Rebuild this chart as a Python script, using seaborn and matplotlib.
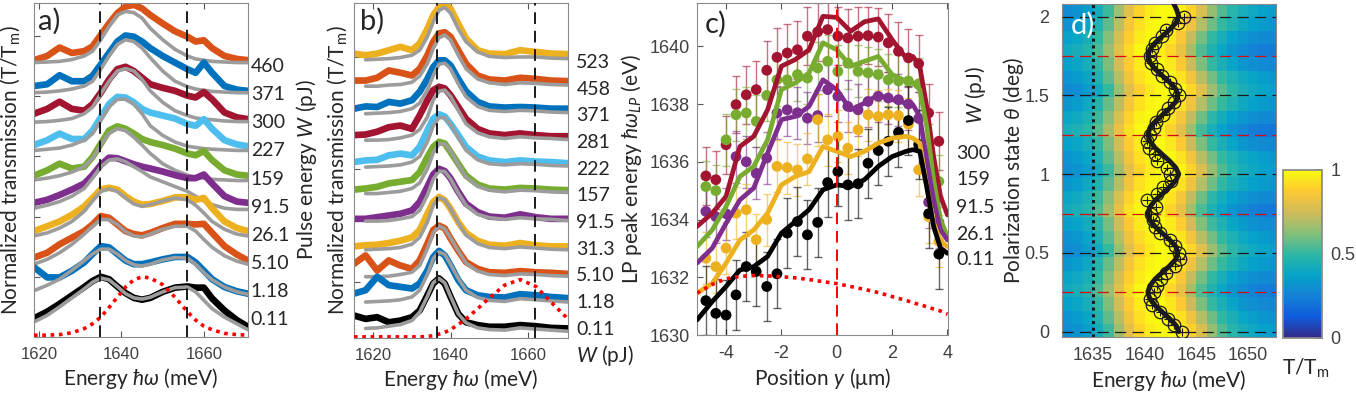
import numpy as np
import matplotlib
matplotlib.use("Agg")
import matplotlib.pyplot as plt
import seaborn as sns
from matplotlib.colors import LinearSegmentedColormap

sns.set_theme(style="ticks")
plt.rcParams['font.family'] = ['Lato', 'DejaVu Sans']
plt.rcParams['mathtext.fontset'] = 'custom'
plt.rcParams['mathtext.rm'] = 'Lato'
plt.rcParams['mathtext.it'] = 'Lato:italic'
plt.rcParams['mathtext.bf'] = 'Lato:bold'
plt.rcParams['mathtext.fallback'] = 'stix'
plt.rcParams['axes.unicode_minus'] = False

# ---------------- colours ----------------
BLUE, ORANGE, YELLOW, PURPLE = '#0072BD', '#D95319', '#EDB120', '#7E2F8E'
GREEN, LBLUE, DRED, BLACK = '#77AC30', '#4DBEEE', '#A2142F', '#000000'
GREY = '#9c9c9c'

# ---------------- panel a data ----------------
Ea = [1618.8, 1622, 1625, 1628, 1631, 1633, 1635, 1637, 1639, 1641, 1643, 1645,
      1647, 1650, 1653, 1656, 1658, 1660, 1662, 1665, 1668, 1670.7]
a_W = ["460", "371", "300", "227", "159", "91.5", "26.1", "5.10", "1.18", "0.11"]
a_colors = [ORANGE, BLUE, DRED, LBLUE, GREEN, PURPLE, YELLOW, ORANGE, BLUE, BLACK]
a_T460 = [4.60, 4.67, 4.81, 4.72, 4.75, 4.83, 5.02, 5.21, 5.38, 5.49, 5.52, 5.46, 5.35, 5.21, 5.08, 4.99, 4.91, 4.93, 4.80, 4.67, 4.62, 4.60]
a_F460 = [4.56, 4.57, 4.58, 4.61, 4.67, 4.75, 4.94, 5.16, 5.35, 5.41, 5.39, 5.30, 5.13, 4.94, 4.78, 4.67, 4.62, 4.60, 4.58, 4.57, 4.56, 4.56]
a_T371 = [4.17, 4.20, 4.35, 4.25, 4.25, 4.34, 4.53, 4.72, 4.91, 5.01, 4.99, 4.91, 4.80, 4.67, 4.56, 4.45, 4.39, 4.56, 4.39, 4.17, 4.11, 4.09]
a_F371 = [4.06, 4.07, 4.09, 4.12, 4.17, 4.25, 4.45, 4.67, 4.86, 4.94, 4.91, 4.80, 4.64, 4.42, 4.25, 4.16, 4.12, 4.10, 4.08, 4.07, 4.06, 4.06]
a_T300 = [3.71, 3.79, 3.91, 3.79, 3.76, 3.87, 4.06, 4.28, 4.45, 4.49, 4.42, 4.31, 4.20, 4.14, 4.09, 4.01, 3.98, 4.07, 3.95, 3.73, 3.65, 3.62]
a_F300 = [3.57, 3.58, 3.60, 3.63, 3.71, 3.82, 4.04, 4.25, 4.42, 4.46, 4.42, 4.28, 4.09, 3.90, 3.76, 3.68, 3.64, 3.62, 3.61, 3.59, 3.58, 3.58]
a_T227 = [3.19, 3.27, 3.38, 3.29, 3.29, 3.43, 3.65, 3.87, 3.99, 3.98, 3.90, 3.79, 3.73, 3.68, 3.63, 3.54, 3.51, 3.62, 3.46, 3.27, 3.20, 3.17]
a_F227 = [3.10, 3.12, 3.14, 3.19, 3.27, 3.38, 3.60, 3.82, 3.95, 3.95, 3.87, 3.71, 3.51, 3.35, 3.24, 3.17, 3.15, 3.13, 3.12, 3.11, 3.10, 3.10]
a_T159 = [2.68, 2.77, 2.88, 2.80, 2.83, 2.99, 3.21, 3.43, 3.50, 3.46, 3.38, 3.29, 3.24, 3.19, 3.13, 3.05, 3.02, 3.09, 2.94, 2.77, 2.70, 2.68]
a_F159 = [2.61, 2.64, 2.68, 2.74, 2.83, 2.97, 3.19, 3.38, 3.46, 3.43, 3.32, 3.19, 3.05, 2.88, 2.77, 2.69, 2.65, 2.64, 2.62, 2.61, 2.60, 2.60]
a_T915 = [2.23, 2.28, 2.36, 2.45, 2.55, 2.69, 2.86, 2.98, 2.97, 2.92, 2.87, 2.83, 2.80, 2.75, 2.69, 2.64, 2.64, 2.70, 2.55, 2.34, 2.25, 2.23]
a_F915 = [2.14, 2.19, 2.25, 2.34, 2.47, 2.64, 2.83, 2.94, 2.96, 2.91, 2.83, 2.75, 2.66, 2.58, 2.50, 2.42, 2.34, 2.26, 2.20, 2.14, 2.12, 2.12]
a_T261 = [1.76, 1.84, 1.92, 2.03, 2.17, 2.31, 2.45, 2.48, 2.45, 2.34, 2.25, 2.20, 2.21, 2.26, 2.32, 2.32, 2.28, 2.31, 2.14, 1.92, 1.81, 1.76]
a_F261 = [1.68, 1.73, 1.81, 1.92, 2.09, 2.26, 2.42, 2.46, 2.42, 2.31, 2.21, 2.17, 2.20, 2.26, 2.31, 2.28, 2.19, 2.06, 1.92, 1.79, 1.71, 1.68]
a_T510 = [1.32, 1.40, 1.54, 1.65, 1.76, 1.87, 2.01, 1.98, 1.87, 1.76, 1.71, 1.69, 1.73, 1.81, 1.88, 1.88, 1.87, 1.88, 1.73, 1.51, 1.37, 1.27]
a_F510 = [1.21, 1.29, 1.40, 1.54, 1.71, 1.84, 1.95, 1.95, 1.87, 1.75, 1.68, 1.66, 1.71, 1.79, 1.84, 1.84, 1.76, 1.62, 1.49, 1.35, 1.26, 1.21]
a_T118 = [1.16, 0.99, 0.99, 1.10, 1.24, 1.38, 1.51, 1.49, 1.38, 1.27, 1.21, 1.21, 1.24, 1.29, 1.33, 1.33, 1.24, 1.10, 0.96, 0.83, 0.76, 0.72]
a_F118 = [0.77, 0.86, 0.96, 1.11, 1.27, 1.38, 1.46, 1.46, 1.38, 1.27, 1.20, 1.18, 1.21, 1.28, 1.32, 1.31, 1.21, 1.07, 0.95, 0.83, 0.75, 0.71]
a_T011 = [0.31, 0.42, 0.55, 0.69, 0.83, 0.93, 1.00, 0.96, 0.84, 0.73, 0.65, 0.62, 0.65, 0.75, 0.82, 0.84, 0.82, 0.82, 0.64, 0.44, 0.28, 0.17]
a_F011 = [0.25, 0.36, 0.50, 0.65, 0.80, 0.91, 0.98, 0.95, 0.84, 0.72, 0.65, 0.63, 0.66, 0.75, 0.82, 0.83, 0.75, 0.61, 0.47, 0.33, 0.22, 0.12]
a_pulse = [0.03, 0.03, 0.04, 0.07, 0.14, 0.22, 0.33, 0.49, 0.66, 0.83, 0.95, 1.00, 0.98, 0.87, 0.66, 0.42, 0.28, 0.18, 0.12, 0.06, 0.04, 0.03]
a_dashed = [1634.8, 1655.9]

# ---------------- panel b data ----------------
Eb = [1615, 1618, 1621, 1624, 1627, 1630, 1632, 1634, 1635.5, 1637, 1638.5, 1640,
      1642, 1644, 1647, 1650, 1654, 1658, 1662, 1666, 1670.4]
b_W = ["523", "458", "371", "281", "222", "157", "91.5", "31.3", "5.10", "1.18", "0.11"]
b_colors = [YELLOW, ORANGE, BLUE, DRED, LBLUE, GREEN, PURPLE, YELLOW, ORANGE, BLUE, BLACK]
b_T523 = [5.06, 5.03, 5.06, 5.12, 5.18, 5.12, 5.24, 5.50, 5.74, 5.89, 5.94, 5.86, 5.59, 5.33, 5.12, 5.06, 5.05, 5.12, 5.09, 5.06, 5.05]
b_F523 = [4.95, 4.96, 4.97, 4.99, 5.03, 5.12, 5.36, 5.62, 5.83, 5.88, 5.78, 5.50, 5.27, 5.09, 5.01, 4.99, 5.00, 5.00, 4.98, 4.97]
b_T458 = [4.58, 4.58, 4.63, 4.76, 4.72, 4.67, 4.79, 5.03, 5.27, 5.42, 5.44, 5.36, 5.12, 4.88, 4.67, 4.60, 4.58, 4.63, 4.61, 4.58, 4.57]
b_F458 = [4.48, 4.48, 4.50, 4.51, 4.55, 4.66, 4.88, 5.15, 5.34, 5.39, 5.30, 5.03, 4.79, 4.61, 4.54, 4.51, 4.54, 4.53, 4.51, 4.50]
b_T371 = [4.08, 4.12, 4.11, 4.20, 4.17, 4.23, 4.38, 4.61, 4.82, 4.94, 4.94, 4.85, 4.61, 4.39, 4.20, 4.12, 4.10, 4.11, 4.10, 4.08, 4.08]
b_F371 = [3.99, 4.00, 4.01, 4.03, 4.08, 4.18, 4.41, 4.67, 4.87, 4.89, 4.79, 4.52, 4.29, 4.12, 4.05, 4.03, 4.05, 4.04, 4.02, 4.01]
b_T281 = [3.61, 3.62, 3.67, 3.75, 3.78, 3.72, 3.96, 4.23, 4.41, 4.47, 4.44, 4.32, 4.11, 3.90, 3.72, 3.64, 3.61, 3.64, 3.61, 3.59, 3.59]
b_F281 = [3.52, 3.52, 3.53, 3.56, 3.61, 3.71, 3.93, 4.23, 4.39, 4.41, 4.30, 4.05, 3.81, 3.65, 3.58, 3.55, 3.58, 3.56, 3.55, 3.53]
b_T222 = [3.13, 3.16, 3.17, 3.25, 3.28, 3.25, 3.40, 3.69, 3.90, 3.98, 3.94, 3.81, 3.61, 3.40, 3.23, 3.16, 3.13, 3.16, 3.14, 3.13, 3.11]
b_F222 = [3.04, 3.05, 3.06, 3.08, 3.13, 3.23, 3.49, 3.77, 3.92, 3.92, 3.80, 3.56, 3.34, 3.17, 3.10, 3.08, 3.10, 3.09, 3.07, 3.06]
b_T157 = [2.64, 2.66, 2.69, 2.75, 2.78, 2.81, 2.95, 3.22, 3.40, 3.49, 3.46, 3.31, 3.10, 2.89, 2.73, 2.66, 2.64, 2.67, 2.66, 2.64, 2.63]
b_F157 = [2.57, 2.57, 2.59, 2.61, 2.66, 2.76, 3.01, 3.29, 3.45, 3.45, 3.33, 3.09, 2.86, 2.70, 2.63, 2.60, 2.63, 2.62, 2.60, 2.59]
b_T915 = [2.12, 2.12, 2.15, 2.18, 2.21, 2.27, 2.42, 2.69, 2.91, 3.01, 2.97, 2.84, 2.60, 2.39, 2.24, 2.16, 2.14, 2.20, 2.15, 2.12, 2.12]
b_F915 = [2.08, 2.08, 2.09, 2.12, 2.16, 2.27, 2.54, 2.82, 2.97, 2.96, 2.83, 2.58, 2.36, 2.20, 2.14, 2.11, 2.14, 2.12, 2.11, 2.09]
b_T313 = [1.63, 1.65, 1.66, 1.69, 1.73, 1.79, 1.92, 2.21, 2.42, 2.51, 2.45, 2.30, 2.06, 1.87, 1.73, 1.66, 1.64, 1.69, 1.65, 1.63, 1.63]
b_F313 = [1.57, 1.58, 1.59, 1.61, 1.67, 1.79, 2.06, 2.36, 2.50, 2.46, 2.30, 2.05, 1.83, 1.68, 1.61, 1.59, 1.62, 1.60, 1.58, 1.57]
b_T510 = [1.32, 1.47, 1.20, 1.38, 1.29, 1.23, 1.38, 1.68, 1.92, 2.00, 1.95, 1.77, 1.55, 1.35, 1.23, 1.17, 1.16, 1.19, 1.17, 1.16, 1.14]
b_F510 = [1.09, 1.09, 1.10, 1.13, 1.17, 1.29, 1.59, 1.87, 1.99, 1.94, 1.78, 1.55, 1.33, 1.19, 1.13, 1.11, 1.14, 1.13, 1.11, 1.10]
b_T118 = [0.79, 0.85, 1.09, 0.94, 0.91, 0.88, 0.97, 1.20, 1.44, 1.55, 1.47, 1.29, 1.03, 0.85, 0.76, 0.73, 0.72, 0.78, 0.76, 0.73, 0.71]
b_F118 = [0.64, 0.65, 0.66, 0.68, 0.73, 0.85, 1.13, 1.41, 1.53, 1.49, 1.31, 1.06, 0.85, 0.72, 0.67, 0.65, 0.70, 0.68, 0.66, 0.64]
b_T011 = [0.40, 0.34, 0.37, 0.28, 0.31, 0.37, 0.49, 0.76, 0.97, 1.06, 0.97, 0.73, 0.43, 0.28, 0.23, 0.20, 0.20, 0.23, 0.21, 0.18, 0.17]
b_F011 = [0.17, 0.18, 0.21, 0.24, 0.31, 0.46, 0.74, 0.98, 1.06, 0.98, 0.74, 0.43, 0.27, 0.18, 0.15, 0.14, 0.18, 0.16, 0.14, 0.12]
b_pulse = [0.02, 0.02, 0.02, 0.02, 0.02, 0.02, 0.02, 0.03, 0.04, 0.07, 0.10, 0.15, 0.24, 0.34, 0.52, 0.71, 0.94, 1.04, 0.92, 0.64, 0.34]
b_dashed = [1636.6, 1661.8]

# ---------------- panel c data ----------------
pos = [-4.73, -4.37, -4.00, -3.64, -3.27, -2.91, -2.53, -2.16, -1.79, -1.42, -1.06, -0.69,
       -0.33, 0.04, 0.40, 0.77, 1.13, 1.50, 1.86, 2.23, 2.59, 2.96, 3.32, 3.69]
c_W = ["300", "159", "91.5", "26.1", "0.11"]
c_colors = [DRED, GREEN, PURPLE, YELLOW, BLACK]
c_300 = [1635.51, 1635.38, 1636.59, 1637.98, 1638.32, 1638.50, 1639.17, 1639.62, 1639.77, 1639.88, 1640.35, 1640.50,
         1640.58, 1640.35, 1640.29, 1640.35, 1640.37, 1640.32, 1640.12, 1639.83, 1639.60, 1639.40, 1637.69, 1636.71]
c_159 = [1635.14, 1635.00, 1636.76, 1637.63, 1637.69, 1637.40, 1638.30, 1638.84, 1638.84, 1639.02, 1638.90, 1639.25,
         1639.48, 1639.13, 1639.42, 1639.13, 1639.08, 1639.02, 1638.84, 1638.80, 1638.80, 1638.70, 1636.40, 1635.32]
c_915 = [1634.28, 1634.10, 1634.20, 1636.18, 1636.00, 1635.60, 1636.13, 1637.69, 1637.80, 1637.70, 1637.51, 1637.60,
         1638.50, 1638.27, 1637.92, 1637.80, 1638.09, 1638.27, 1638.21, 1638.15, 1638.00, 1637.50, 1634.60, 1633.90]
c_261 = [1632.66, 1632.37, 1633.01, 1634.22, 1634.34, 1633.30, 1634.00, 1635.84, 1635.80, 1635.72, 1636.10, 1637.46,
         1636.76, 1636.88, 1636.47, 1637.11, 1637.63, 1637.57, 1637.63, 1637.60, 1637.30, 1635.72, 1634.10, 1633.24]
c_011 = [1631.19, 1630.75, 1630.69, 1631.39, 1632.37, 1632.20, 1631.68, 1632.12, 1633.53, 1633.93, 1633.47, 1633.90,
         1635.28, 1635.66, 1635.20, 1635.24, 1635.95, 1636.39, 1636.71, 1637.02, 1637.43, 1636.60, 1634.20, 1632.80]
c_err = [1.0, 0.9, 0.9, 0.9, 1.2]
lx = [-5.05, -4.5, -4.0, -3.5, -3.0, -2.5, -2.0, -1.5, -1.0, -0.5, 0.0, 0.5, 1.0, 1.5, 2.0, 2.5, 2.75, 3.0, 3.25, 3.5, 3.75, 4.0]
l_300 = [1633.76, 1634.22, 1634.80, 1636.53, 1636.88, 1637.80, 1639.31, 1639.54, 1639.88, 1641.04, 1641.00, 1640.52,
         1640.85, 1640.95, 1640.23, 1639.60, 1639.65, 1639.31, 1637.92, 1636.18, 1634.80, 1634.16]
l_159 = [1633.06, 1633.64, 1634.45, 1635.49, 1635.84, 1636.76, 1638.50, 1638.73, 1639.08, 1640.12, 1639.88, 1639.31,
         1639.48, 1639.65, 1639.02, 1638.79, 1638.73, 1638.50, 1637.23, 1635.38, 1633.99, 1633.41]
l_915 = [1632.49, 1633.01, 1633.87, 1634.68, 1635.09, 1636.30, 1637.46, 1637.57, 1637.92, 1638.84, 1638.50, 1637.80,
         1638.03, 1638.32, 1638.15, 1638.03, 1637.98, 1637.57, 1636.07, 1634.68, 1633.64, 1633.29]
l_261 = [1631.45, 1631.79, 1632.49, 1633.29, 1633.64, 1634.22, 1635.20, 1635.49, 1635.66, 1636.53, 1636.36, 1636.18,
         1636.36, 1636.65, 1636.82, 1636.88, 1636.82, 1636.65, 1635.14, 1633.87, 1633.24, 1633.06]
l_011 = [1630.52, 1631.16, 1631.68, 1632.25, 1632.37, 1632.72, 1633.53, 1633.93, 1634.34, 1635.03, 1635.20, 1635.14,
         1635.38, 1635.84, 1636.18, 1636.36, 1636.42, 1636.36, 1635.14, 1633.76, 1633.01, 1632.83]
l_pulse = [1631.45, 1631.75, 1631.95, 1632.03, 1632.06, 1632.05, 1632.02, 1631.98, 1631.92, 1631.85, 1631.78, 1631.68,
           1631.58, 1631.47, 1631.33, 1631.20, 1631.12, 1631.05, 1630.98, 1630.90, 1630.83, 1630.72]

# ---------------- panel d data ----------------
d_E = [1632.5 + i for i in range(21)]          # column centres (meV)
d_theta = [k / 12 for k in range(25)]          # row centres (deg)
d_map = [
    [0.29, 0.31, 0.36, 0.42, 0.52, 0.67, 0.80, 0.90, 0.96, 0.99, 1.00, 0.98, 0.90, 0.78, 0.65, 0.55, 0.48, 0.43, 0.40, 0.37, 0.35],
    [0.32, 0.34, 0.39, 0.46, 0.57, 0.71, 0.84, 0.93, 0.98, 1.00, 0.98, 0.93, 0.83, 0.70, 0.59, 0.50, 0.44, 0.39, 0.36, 0.33, 0.31],
    [0.37, 0.39, 0.43, 0.50, 0.61, 0.76, 0.88, 0.96, 1.00, 0.99, 0.95, 0.87, 0.74, 0.61, 0.51, 0.44, 0.38, 0.33, 0.30, 0.28, 0.27],
    [0.41, 0.43, 0.47, 0.54, 0.66, 0.80, 0.92, 0.99, 1.00, 0.97, 0.91, 0.82, 0.68, 0.55, 0.46, 0.39, 0.33, 0.29, 0.26, 0.24, 0.23],
    [0.38, 0.40, 0.44, 0.51, 0.62, 0.77, 0.89, 0.96, 1.00, 0.99, 0.95, 0.86, 0.73, 0.60, 0.50, 0.43, 0.37, 0.33, 0.30, 0.28, 0.27],
    [0.33, 0.35, 0.40, 0.47, 0.58, 0.72, 0.85, 0.93, 0.98, 1.00, 0.98, 0.93, 0.83, 0.70, 0.59, 0.51, 0.45, 0.40, 0.37, 0.34, 0.32],
    [0.28, 0.30, 0.35, 0.41, 0.51, 0.66, 0.79, 0.89, 0.95, 0.99, 1.00, 0.99, 0.91, 0.79, 0.66, 0.56, 0.49, 0.44, 0.41, 0.38, 0.36],
    [0.31, 0.33, 0.38, 0.45, 0.56, 0.70, 0.83, 0.92, 0.97, 1.00, 0.99, 0.94, 0.84, 0.71, 0.60, 0.51, 0.45, 0.40, 0.37, 0.34, 0.32],
    [0.36, 0.38, 0.42, 0.49, 0.60, 0.75, 0.87, 0.95, 1.00, 0.99, 0.96, 0.88, 0.75, 0.62, 0.52, 0.45, 0.39, 0.34, 0.31, 0.29, 0.28],
    [0.42, 0.44, 0.48, 0.55, 0.67, 0.81, 0.93, 0.99, 1.00, 0.97, 0.90, 0.81, 0.67, 0.54, 0.45, 0.38, 0.32, 0.28, 0.25, 0.23, 0.22],
    [0.39, 0.41, 0.45, 0.52, 0.63, 0.78, 0.90, 0.97, 1.00, 0.98, 0.94, 0.85, 0.72, 0.59, 0.49, 0.42, 0.37, 0.33, 0.30, 0.28, 0.27],
    [0.33, 0.35, 0.40, 0.46, 0.57, 0.71, 0.84, 0.93, 0.98, 1.00, 0.98, 0.93, 0.83, 0.70, 0.59, 0.50, 0.44, 0.40, 0.37, 0.34, 0.32],
    [0.29, 0.31, 0.36, 0.42, 0.52, 0.67, 0.80, 0.90, 0.96, 0.99, 1.00, 0.98, 0.90, 0.78, 0.65, 0.55, 0.48, 0.43, 0.40, 0.37, 0.35],
    [0.32, 0.34, 0.39, 0.46, 0.57, 0.71, 0.84, 0.93, 0.98, 1.00, 0.99, 0.94, 0.84, 0.71, 0.60, 0.51, 0.45, 0.41, 0.38, 0.35, 0.33],
    [0.37, 0.39, 0.43, 0.50, 0.61, 0.76, 0.88, 0.96, 1.00, 0.99, 0.95, 0.87, 0.74, 0.61, 0.51, 0.44, 0.38, 0.33, 0.30, 0.28, 0.27],
    [0.43, 0.45, 0.49, 0.56, 0.68, 0.82, 0.93, 0.99, 1.00, 0.97, 0.90, 0.80, 0.66, 0.53, 0.44, 0.37, 0.31, 0.27, 0.24, 0.22, 0.21],
    [0.39, 0.41, 0.45, 0.52, 0.63, 0.78, 0.90, 0.97, 1.00, 0.98, 0.94, 0.85, 0.72, 0.59, 0.49, 0.42, 0.37, 0.33, 0.30, 0.28, 0.27],
    [0.33, 0.35, 0.40, 0.47, 0.58, 0.72, 0.85, 0.93, 0.98, 1.00, 0.98, 0.93, 0.83, 0.70, 0.59, 0.51, 0.45, 0.40, 0.37, 0.34, 0.32],
    [0.28, 0.30, 0.35, 0.41, 0.51, 0.66, 0.79, 0.89, 0.95, 0.99, 1.00, 0.99, 0.91, 0.79, 0.66, 0.56, 0.49, 0.44, 0.41, 0.38, 0.36],
    [0.32, 0.34, 0.39, 0.46, 0.57, 0.71, 0.84, 0.93, 0.98, 1.00, 0.99, 0.94, 0.84, 0.71, 0.60, 0.51, 0.45, 0.41, 0.38, 0.35, 0.33],
    [0.37, 0.39, 0.43, 0.50, 0.61, 0.76, 0.88, 0.96, 1.00, 0.99, 0.95, 0.87, 0.74, 0.61, 0.51, 0.44, 0.38, 0.33, 0.30, 0.28, 0.27],
    [0.41, 0.43, 0.47, 0.54, 0.66, 0.80, 0.92, 0.99, 1.00, 0.97, 0.91, 0.82, 0.68, 0.55, 0.46, 0.39, 0.33, 0.29, 0.26, 0.24, 0.23],
    [0.37, 0.39, 0.44, 0.51, 0.62, 0.77, 0.89, 0.96, 1.00, 0.99, 0.95, 0.86, 0.73, 0.60, 0.50, 0.43, 0.37, 0.33, 0.30, 0.28, 0.27],
    [0.32, 0.34, 0.39, 0.46, 0.57, 0.72, 0.85, 0.93, 0.98, 1.00, 0.98, 0.93, 0.83, 0.70, 0.59, 0.51, 0.45, 0.40, 0.37, 0.34, 0.32],
    [0.29, 0.31, 0.36, 0.42, 0.52, 0.67, 0.80, 0.90, 0.96, 0.99, 1.00, 0.98, 0.90, 0.78, 0.65, 0.55, 0.48, 0.43, 0.40, 0.37, 0.35],
]
d_ptheta = [k / 24 for k in range(49)]
d_pE = [1643.6, 1642.8, 1642.3, 1641.5, 1640.7, 1640.5, 1640.9, 1641.2, 1641.6, 1642.1, 1642.9, 1643.4,
        1643.3, 1642.9, 1642.4, 1641.5, 1641.0, 1640.8, 1640.6, 1641.1, 1640.2, 1641.2, 1641.8, 1642.5,
        1642.4, 1642.2, 1641.2, 1641.0, 1640.4, 1640.2, 1640.5, 1640.9, 1641.1, 1641.8, 1642.3, 1642.8,
        1643.3, 1642.9, 1642.4, 1641.7, 1641.2, 1640.6, 1640.5, 1640.7, 1641.0, 1641.7, 1642.1, 1643.2, 1643.8]
d_ltheta = [k / 24 for k in range(51)]
d_lE = [1643.3, 1643.0, 1642.4, 1641.7, 1641.0, 1640.5, 1640.3, 1640.5, 1641.0, 1641.7, 1642.4, 1643.0,
        1643.2, 1643.0, 1642.4, 1641.7, 1641.0, 1640.5, 1640.3, 1640.5, 1641.0, 1641.7, 1642.4, 1643.0,
        1643.3, 1643.0, 1642.4, 1641.7, 1641.0, 1640.5, 1640.3, 1640.5, 1641.0, 1641.7, 1642.4, 1643.0,
        1643.2, 1643.0, 1642.4, 1641.7, 1641.0, 1640.5, 1640.3, 1640.5, 1641.0, 1641.7, 1642.4, 1643.0,
        1643.3, 1643.1, 1642.8]

parula = LinearSegmentedColormap.from_list("parula", [
    (0.0, '#352a87'), (0.125, '#0f5cdd'), (0.25, '#1481d6'), (0.375, '#06a4ca'),
    (0.5, '#2eb7a4'), (0.625, '#87bf77'), (0.75, '#d1bb59'), (0.875, '#fec832'), (1.0, '#f9fb0e')])

# ---------------- figure ----------------
W, H = 1356, 398
fig = plt.figure(figsize=(W / 100, H / 100), dpi=100)


def rect(l, t, r, b):
    return [l / W, 1 - b / H, (r - l) / W, (b - t) / H]


TICKC = '#404040'
SPINEC = '#8a8a8a'
TFS = 12
LFS = 15


def style(ax, fs=TFS):
    for s in ax.spines.values():
        s.set_color(SPINEC)
        s.set_linewidth(0.8)
    ax.tick_params(direction='in', top=True, right=True, length=4, width=0.8,
                   color='#555555', labelcolor=TICKC, labelsize=fs, pad=7)
    for lab in ax.get_xticklabels() + ax.get_yticklabels():
        lab.set_family(['Liberation Sans', 'DejaVu Sans'])


# ---- panel a ----
axA = fig.add_axes(rect(34, 3, 248, 337))
a_T = [a_T460, a_T371, a_T300, a_T227, a_T159, a_T915, a_T261, a_T510, a_T118, a_T011]
a_F = [a_F460, a_F371, a_F300, a_F227, a_F159, a_F915, a_F261, a_F510, a_F118, a_F011]
for t, f, c in zip(a_T, a_F, a_colors):
    sns.lineplot(x=Ea, y=t, color=c, lw=4.8, ax=axA, estimator=None, sort=False, legend=False)
    sns.lineplot(x=Ea, y=f, color=GREY, lw=2.6, ax=axA, estimator=None, sort=False, legend=False)
axA.plot(Ea, a_pulse, color='red', lw=2.6, ls=(0, (1, 1.3)), zorder=4)
for xd in a_dashed:
    axA.axvline(xd, color='k', lw=1.4, ls=(0, (6, 3.5)), zorder=6)
axA.set_xlim(1618.8, 1670.7)
axA.set_ylim(0, 5.55)
axA.set_xticks([1620, 1640, 1660])
axA.set_yticks([0, 1, 2, 3, 4, 5])
axA.set_yticklabels([])
style(axA)
axA.set_xlabel(r'Energy $\hbar\omega$ (meV)', fontsize=LFS, labelpad=3)
axA.set_ylabel(r'Normalized transmission (T/T$_\mathrm{m}$)', fontsize=LFS)
axA.yaxis.set_label_coords(-0.058, 0.5)
axA.text(0.02, 0.985, 'a)', transform=axA.transAxes, fontsize=21, va='top', ha='left')
axA2 = axA.twinx()
axA2.set_ylim(0, 5.55)
axA2.set_yticks([0.31 + 0.468 * i for i in range(10)][::-1])
axA2.set_yticklabels(a_W, fontsize=14)
axA2.tick_params(length=0, pad=2)
for s in axA2.spines.values():
    s.set_visible(False)
axA2.set_ylabel(r'Pulse energy $W$ (pJ)', fontsize=LFS)
axA2.yaxis.set_label_coords(1.215, 0.5)

# ---- panel b ----
axB = fig.add_axes(rect(354, 3, 568, 338))
b_T = [b_T523, b_T458, b_T371, b_T281, b_T222, b_T157, b_T915, b_T313, b_T510, b_T118, b_T011]
b_F = [b_F523, b_F458, b_F371, b_F281, b_F222, b_F157, b_F915, b_F313, b_F510, b_F118, b_F011]
for t, f, c in zip(b_T, b_F, b_colors):
    sns.lineplot(x=Eb, y=t, color=c, lw=4.8, ax=axB, estimator=None, sort=False, legend=False)
    sns.lineplot(x=Eb[1:], y=f, color=GREY, lw=2.6, ax=axB, estimator=None, sort=False, legend=False)
axB.plot(Eb, b_pulse, color='red', lw=2.6, ls=(0, (1, 1.3)), zorder=4)
for xd in b_dashed:
    axB.axvline(xd, color='k', lw=1.4, ls=(0, (6, 3.5)), zorder=6)
axB.set_xlim(1615, 1670.4)
axB.set_ylim(0, 5.96)
axB.set_xticks([1620, 1640, 1660])
axB.set_yticks([1, 3, 5])
axB.set_yticklabels([])
style(axB)
axB.set_xlabel(r'Energy $\hbar\omega$ (meV)', fontsize=LFS, labelpad=3)
axB.set_ylabel(r'Normalized transmission (T/T$_\mathrm{m}$)', fontsize=LFS)
axB.yaxis.set_label_coords(-0.022, 0.5)
axB.text(0.03, 0.985, 'b)', transform=axB.transAxes, fontsize=21, va='top', ha='left')
axB2 = axB.twinx()
axB2.set_ylim(0, 5.96)
axB2.set_yticks([0.18 + 0.475 * i for i in range(11)][::-1])
axB2.set_yticklabels(b_W, fontsize=14)
axB2.tick_params(length=0, pad=6)
for s in axB2.spines.values():
    s.set_visible(False)
fig.text(605 / W, 1 - 356 / H, r'$W$ (pJ)', fontsize=LFS, ha='center', va='center')

# ---- panel c ----
axC = fig.add_axes(rect(697, 3, 948, 335))
c_Y = [c_300, c_159, c_915, c_261, c_011]
c_L = [l_300, l_159, l_915, l_261, l_011]
for y, l, c, e in zip(c_Y, c_L, c_colors, c_err):
    axC.errorbar(pos, y, yerr=e, fmt='none', ecolor=c, alpha=0.6, elinewidth=1.0, capsize=3, capthick=1.0)
    sns.scatterplot(x=pos, y=y, color=c, s=60, edgecolor='none', ax=axC, legend=False, zorder=3)
    sns.lineplot(x=lx, y=l, color=c, lw=3.4, ax=axC, estimator=None, sort=False, legend=False, zorder=4)
axC.plot(lx, l_pulse, color='red', lw=2.6, ls=(0, (1, 1.3)), zorder=5)
axC.axvline(0, color='red', lw=1.4, ls=(0, (6, 3.5)), zorder=6)
axC.set_xlim(-5.05, 4.02)
axC.set_ylim(1630, 1641.5)
axC.set_xticks([-4, -2, 0, 2, 4])
axC.set_yticks([1630, 1632, 1634, 1636, 1638, 1640])
style(axC, fs=13)
axC.tick_params(axis='y', pad=5)
axC.set_xlabel(r'Position $y$ (μm)', fontsize=LFS, labelpad=3)
axC.set_ylabel(r'LP peak energy $\hbar\omega_{LP}$ (eV)', fontsize=LFS)
axC.yaxis.set_label_coords(-0.212, 0.5)
axC.text(0.03, 0.975, 'c)', transform=axC.transAxes, fontsize=21, va='top', ha='left')
axC2 = axC.twinx()
axC2.set_ylim(1630, 1641.5)
axC2.set_yticks([1636.35, 1635.45, 1634.47, 1633.54, 1632.67])
axC2.set_yticklabels(c_W, fontsize=14)
axC2.tick_params(length=0, pad=6)
for s in axC2.spines.values():
    s.set_visible(False)
axC.text(1.11, 1638.3, r'$W$ (pJ)', transform=axC.get_yaxis_transform(), rotation=90,
         fontsize=LFS, ha='center', va='center')

# ---- panel d ----
axD = fig.add_axes(rect(1062, 4, 1276, 337))
e_edges = [1632 + i for i in range(22)]
t_edges = [-0.035 + 0.0846 * i for i in range(26)]
axD.pcolormesh(e_edges, t_edges, np.array(d_map), cmap=parula, vmin=0, vmax=1, shading='flat')
for th in [0, 0.5, 1, 1.5, 2]:
    axD.axhline(th, color='k', lw=0.9, ls=(0, (9, 5)), zorder=3)
for th in [0.25, 0.75, 1.25, 1.75]:
    axD.axhline(th, color='#d01010', lw=0.9, ls=(0, (9, 5)), zorder=3)
axD.axvline(1635, color='k', lw=2.2, ls=(0, (1, 1.2)), zorder=3)
axD.errorbar(d_pE, d_ptheta, xerr=0.45, yerr=0.025, fmt='o', ms=9, mfc='none', mec='k',
             mew=0.9, ecolor='k', elinewidth=0.8, zorder=4)
sns.lineplot(x=d_lE, y=d_ltheta, color='k', lw=3.5, ax=axD, estimator=None, sort=False, legend=False, zorder=5)
axD.set_xlim(1632, 1652.7)
axD.set_ylim(-0.034, 2.08)
axD.set_xticks([1635, 1640, 1645, 1650])
axD.set_yticks([0, 0.5, 1, 1.5, 2])
axD.set_yticklabels(['0', '0.5', '1', '1.5', '2'])
style(axD, fs=13)
axD.tick_params(axis='y', pad=9)
axD.set_xlabel(r'Energy $\hbar\omega$ (meV)', fontsize=LFS, labelpad=3)
axD.set_ylabel(r'Polarization state $\theta$ (deg)', fontsize=LFS)
axD.yaxis.set_label_coords(-0.168, 0.5)
axD.text(0.04, 0.975, 'd)', transform=axD.transAxes, fontsize=21, va='top', ha='left', color='white')

# colorbar
cax = fig.add_axes(rect(1283, 170, 1322, 338))
sm = plt.cm.ScalarMappable(cmap=parula, norm=plt.Normalize(0, 1))
cb = fig.colorbar(sm, cax=cax, ticks=[0, 0.5, 1])
cb.ax.set_yticklabels(['0', '0.5', '1'])
cb.outline.set_edgecolor(SPINEC)
cb.ax.tick_params(direction='in', length=4, color='#555555', labelcolor=TICKC, labelsize=13, pad=6)
for lab in cb.ax.get_yticklabels():
    lab.set_family(['Liberation Sans', 'DejaVu Sans'])
fig.text(1306 / W, 1 - 368 / H, r'T/T$_\mathrm{m}$', fontsize=LFS, ha='center', va='center')

fig.savefig('out.png', dpi=100)
